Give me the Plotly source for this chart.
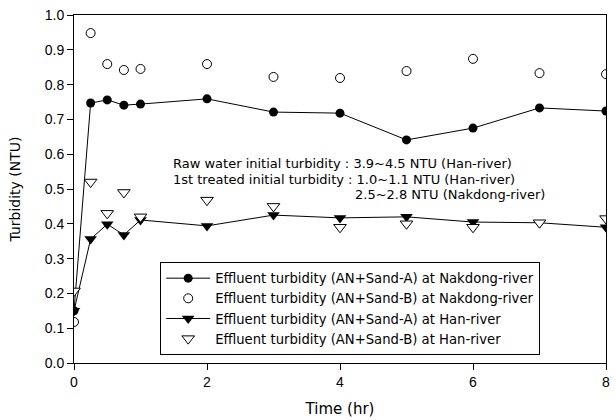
import plotly.graph_objects as go

time_hr = [0, 0.25, 0.5, 0.75, 1, 2, 3, 4, 5, 6, 7, 8]
a_nakdong = [0.15, 0.747, 0.756, 0.741, 0.744, 0.759, 0.721, 0.718, 0.641, 0.675, 0.733, 0.724]
b_nakdong = [0.118, 0.948, 0.859, 0.842, 0.845, 0.859, 0.822, 0.819, 0.839, 0.874, 0.833, 0.830]
a_han = [0.15, 0.356, 0.399, 0.368, 0.411, 0.394, 0.425, 0.417, 0.42, 0.405, 0.403, 0.39]
b_han = [0.207, 0.52, 0.43, 0.49, 0.42, 0.468, 0.45, 0.39, 0.40, 0.39, 0.403, 0.415]

names = [
    "Effluent turbidity (AN+Sand-A) at Nakdong-river",
    "Effluent turbidity (AN+Sand-B) at Nakdong-river",
    "Effluent turbidity (AN+Sand-A) at Han-river",
    "Effluent turbidity (AN+Sand-B) at Han-river",
]
note_lines = [
    "Raw water initial turbidity : 3.9~4.5 NTU (Han-river)",
    "1st treated initial turbidity : 1.0~1.1 NTU (Han-river)",
    "2.5~2.8 NTU (Nakdong-river)",
]

FONT = "Liberation Sans, Arial, sans-serif"
WIDE = "DejaVu Sans, sans-serif"
fig = go.Figure()
fig.add_trace(go.Scatter(x=time_hr, y=a_nakdong, name=names[0], mode="lines+markers",
                         line=dict(color="black", width=1),
                         marker=dict(symbol="circle", size=9, color="black")))
fig.add_trace(go.Scatter(x=time_hr, y=b_nakdong, name=names[1], mode="markers",
                         marker=dict(symbol="circle-open", size=9, color="black",
                                     line=dict(width=1, color="black"))))
fig.add_trace(go.Scatter(x=time_hr, y=a_han, name=names[2], mode="lines+markers",
                         line=dict(color="black", width=1),
                         marker=dict(symbol="triangle-down", size=11, color="black")))
fig.add_trace(go.Scatter(x=time_hr, y=b_han, name=names[3], mode="markers",
                         marker=dict(symbol="triangle-down", size=11, color="white",
                                     line=dict(width=1, color="black"))))

ann_pos = [(1.46, 0.572), (1.46, 0.528), (4.19, 0.485)]
for (ax, ay), txt in zip(ann_pos, note_lines):
    fig.add_annotation(x=ax, y=ay, text=txt, showarrow=False, xanchor="left",
                       yanchor="middle", font=dict(size=13, color="black", family=WIDE))

fig.update_layout(
    width=616, height=420,
    margin=dict(l=74, r=6, t=15, b=57),
    paper_bgcolor="white", plot_bgcolor="white",
    font=dict(family=FONT, size=13, color="black"),
    showlegend=True,
    legend=dict(x=0.162, y=0.29, xanchor="left", yanchor="top",
                bordercolor="black", borderwidth=1, bgcolor="white",
                font=dict(size=13.2, family=WIDE), tracegroupgap=0,
                itemwidth=44),
    xaxis=dict(range=[0, 8], tickvals=[0, 2, 4, 6, 8], showgrid=False, zeroline=False,
               showline=True, linecolor="black", linewidth=1, mirror=True,
               ticks="outside", ticklen=6, tickcolor="black",
               tickfont=dict(size=14),
               title=dict(text="Time (hr)", font=dict(size=15, family=WIDE), standoff=14)),
    yaxis=dict(range=[0, 1.0], tickvals=[i / 10 for i in range(11)],
               tickformat=".1f", showgrid=False, zeroline=False,
               showline=True, linecolor="black", linewidth=1, mirror=True,
               ticks="outside", ticklen=6, tickcolor="black",
               tickfont=dict(size=14),
               title=dict(text="Turbidity (NTU)", font=dict(size=14, family=WIDE), standoff=20)),
)
fig.write_html("out.html")
